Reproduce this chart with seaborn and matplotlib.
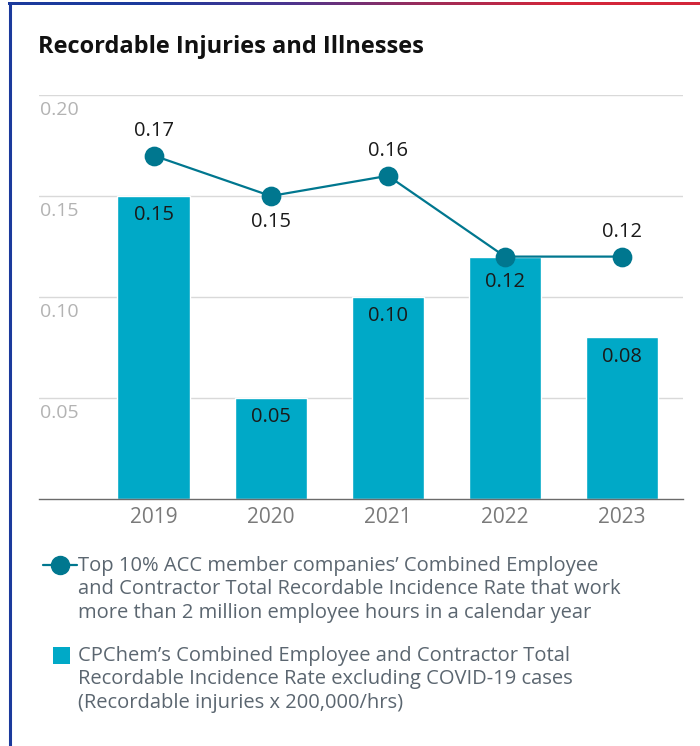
import matplotlib
matplotlib.use("Agg")
import matplotlib.pyplot as plt
import numpy as np
import pandas as pd
import seaborn as sns
from matplotlib.colors import LinearSegmentedColormap
from matplotlib.patches import Rectangle

# data
years = ["2019", "2020", "2021", "2022", "2023"]
cpchem_rate = [0.15, 0.05, 0.10, 0.12, 0.08]
acc_top10_rate = [0.17, 0.15, 0.16, 0.12, 0.12]
y_ticks = [0.05, 0.10, 0.15, 0.20]
line_label_side = ["above", "below", "above", "below", "above"]

title = "Recordable Injuries and Illnesses"
acc_label = ("Top 10% ACC member companies\u2019 Combined Employee\n"
             "and Contractor Total Recordable Incidence Rate that work\n"
             "more than 2 million employee hours in a calendar year")
cpchem_label = ("CPChem\u2019s Combined Employee and Contractor Total\n"
                "Recordable Incidence Rate excluding COVID-19 cases\n"
                "(Recordable injuries x 200,000/hrs)")

BAR_COLOR = "#00A9C7"
LINE_COLOR = "#00778F"
TEXT_DARK = "#1a1a1a"
LEGEND_TEXT = "#5b6670"

sns.set_theme(style="white")
plt.rcParams["font.family"] = ["Open Sans", "DejaVu Sans"]

df = pd.DataFrame({"Year": years, "CPChem": cpchem_rate, "ACC": acc_top10_rate})

W, H = 700, 746
fig = plt.figure(figsize=(W / 100, H / 100), dpi=100)
fig.patch.set_facecolor("white")

# frame / legend overlay in pixel coordinates
over = fig.add_axes([0, 0, 1, 1], zorder=0)
grad = np.linspace(0, 1, 256).reshape(1, -1)
cmap = LinearSegmentedColormap.from_list(
    "frame", ["#1b3a9c", "#1b3a9c", "#4a3590", "#9b2c5a", "#d3263a", "#d3263a"])
over.imshow(grad, cmap=cmap, aspect="auto", extent=(8, W, 5, 2))
over.plot([9.5, 9.5], [2, H], color="#1b3a9c", lw=2.2, solid_capstyle="butt")
over.set_xlim(0, W)
over.set_ylim(H, 0)
over.axis("off")

ax = fig.add_axes([39 / W, 247 / H, 644 / W, 404 / H], zorder=1)
ax.patch.set_alpha(0)

sns.barplot(data=df, x="Year", y="CPChem", color=BAR_COLOR, width=0.62,
            saturation=1, ax=ax, zorder=2)
sns.pointplot(data=df, x="Year", y="ACC", color=LINE_COLOR, markers="o",
              markersize=13, linewidth=1.6, errorbar=None, ax=ax)

ax.set_xlim(-0.98, 4.52)
ax.set_ylim(0, 0.20)
ax.set_xlabel("")
ax.set_ylabel("")

ax.set_yticks(y_ticks)
ax.set_yticklabels([])
ax.yaxis.grid(True, color="#d9d9d9", lw=1)
ax.set_axisbelow(True)
ax.tick_params(axis="y", left=False, length=0)
ax.tick_params(axis="x", bottom=False, length=0, pad=6, labelsize=15, labelcolor="#7a7a7a")
for s in ["left", "right", "top"]:
    ax.spines[s].set_visible(False)
ax.spines["bottom"].set_color("#6b6b6b")
ax.spines["bottom"].set_linewidth(1)

ytrans = ax.get_yaxis_transform()
for t in y_ticks:
    ax.annotate(f"{t:.2f}", xy=(0, t), xycoords=ytrans, xytext=(1, -4.5),
                textcoords="offset points", ha="left", va="top",
                fontsize=14, color="#b3b3b3")

# bar labels (skipped where the line label already shows the same value)
for i, (v, w) in enumerate(zip(cpchem_rate, acc_top10_rate)):
    if v == w:
        continue
    ax.annotate(f"{v:.2f}", xy=(i, v), xytext=(0, -14), textcoords="offset points",
                ha="center", va="center", fontsize=14.5, color=TEXT_DARK, zorder=5)

for i, (v, side) in enumerate(zip(acc_top10_rate, line_label_side)):
    dy = 17.5 if side == "above" else -18.5
    ax.annotate(f"{v:.2f}", xy=(i, v), xytext=(0, dy), textcoords="offset points",
                ha="center", va="center", fontsize=14.5, color=TEXT_DARK, zorder=5)

fig.text(38 / W, 1 - 47 / H, title, fontsize=17, fontweight="bold",
         color="#111111", ha="left", va="center")

# legend
over.plot([43, 77], [565, 565], color=LINE_COLOR, lw=1.6)
over.plot([60], [565], "o", color=LINE_COLOR, markersize=13)
over.add_patch(Rectangle((53, 647), 17, 17, color=BAR_COLOR, lw=0))
over.text(78, 556, acc_label, fontsize=14.5, color=LEGEND_TEXT, ha="left", va="top",
          linespacing=1.22)
over.text(78, 646, cpchem_label, fontsize=14.5, color=LEGEND_TEXT, ha="left", va="top",
          linespacing=1.22)

fig.savefig("out.png", dpi=100, facecolor="white")
